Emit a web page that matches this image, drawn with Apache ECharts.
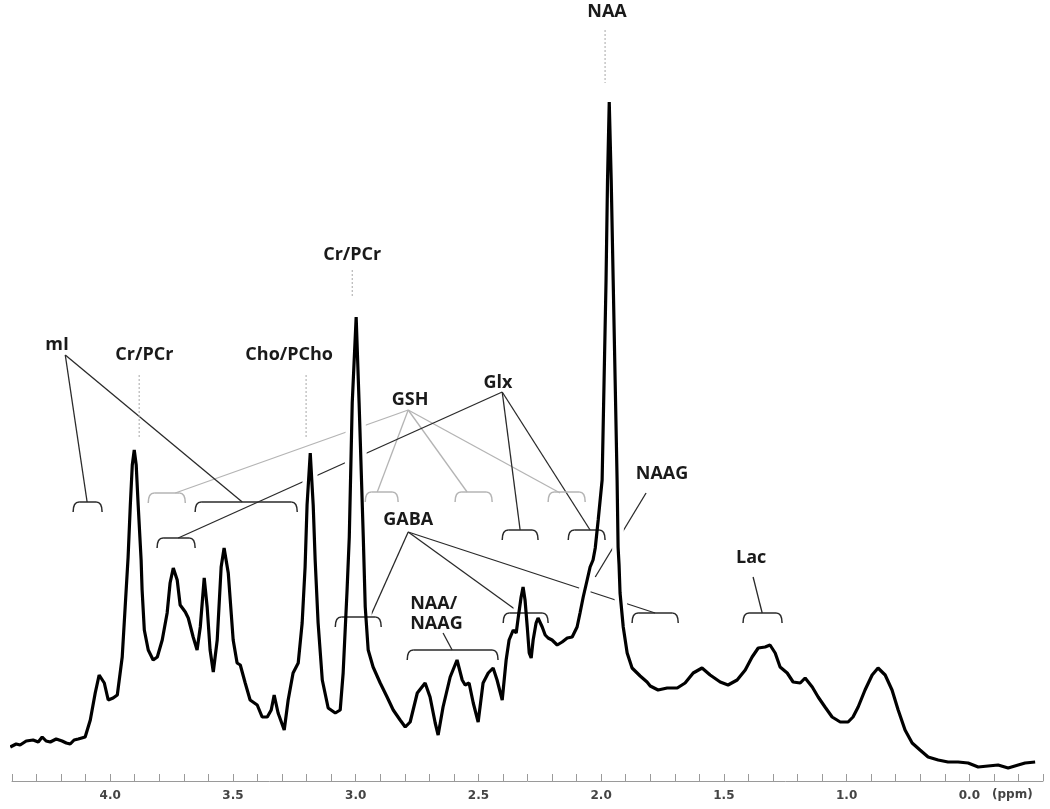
<!DOCTYPE html>
<html>
<head>
<meta charset="utf-8">
<title>MRS spectrum</title>
<script src="https://cdn.jsdelivr.net/npm/echarts@6/dist/echarts.min.js"></script>
<style>
  html, body { margin: 0; padding: 0; background: #fff; }
  #main { width: 1050px; height: 809px; }
</style>
</head>
<body>
<div id="main"></div>
<script>
// spectrum: chemical shift (ppm) and signal (a.u.)
var ppm = [
  4.407, 4.383, 4.367, 4.342, 4.314, 4.293, 4.277, 4.261, 4.244, 4.220,
  4.196, 4.179, 4.163, 4.147, 4.130, 4.102, 4.081, 4.061, 4.045, 4.024,
  4.008, 3.988, 3.971, 3.951, 3.939, 3.927, 3.918, 3.910, 3.902, 3.894,
  3.886, 3.874, 3.870, 3.861, 3.845, 3.825, 3.808, 3.788, 3.768, 3.756,
  3.743, 3.727, 3.715, 3.694, 3.682, 3.662, 3.646, 3.633, 3.617, 3.605,
  3.593, 3.580, 3.564, 3.548, 3.536, 3.519, 3.499, 3.483, 3.470, 3.450,
  3.430, 3.401, 3.381, 3.360, 3.344, 3.332, 3.316, 3.291, 3.275, 3.255,
  3.234, 3.218, 3.206, 3.198, 3.185, 3.173, 3.165, 3.153, 3.136, 3.112,
  3.083, 3.063, 3.051, 3.035, 3.026, 3.014, 2.998, 2.986, 2.969, 2.961,
  2.949, 2.929, 2.900, 2.872, 2.847, 2.819, 2.798, 2.778, 2.749, 2.717,
  2.697, 2.676, 2.664, 2.644, 2.615, 2.587, 2.566, 2.554, 2.538, 2.521,
  2.501, 2.481, 2.460, 2.440, 2.424, 2.403, 2.387, 2.375, 2.358, 2.346,
  2.338, 2.326, 2.318, 2.310, 2.301, 2.293, 2.285, 2.277, 2.265, 2.257,
  2.240, 2.228, 2.216, 2.200, 2.179, 2.159, 2.138, 2.118, 2.098, 2.086,
  2.073, 2.057, 2.045, 2.033, 2.024, 2.012, 1.996, 1.988, 1.980, 1.974,
  1.967, 1.959, 1.951, 1.943, 1.935, 1.931, 1.927, 1.923, 1.910, 1.894,
  1.874, 1.841, 1.813, 1.800, 1.768, 1.731, 1.690, 1.658, 1.625, 1.589,
  1.556, 1.515, 1.483, 1.446, 1.413, 1.385, 1.360, 1.332, 1.312, 1.291,
  1.271, 1.242, 1.218, 1.189, 1.169, 1.140, 1.116, 1.088, 1.059, 1.026,
  0.994, 0.974, 0.953, 0.925, 0.896, 0.872, 0.843, 0.815, 0.790, 0.762,
  0.733, 0.701, 0.668, 0.627, 0.587, 0.546, 0.505, 0.464, 0.424, 0.383,
  0.342, 0.301, 0.273, 0.232
];
var signal = [
  34, 37, 36, 40, 41, 39, 44, 40, 39, 42,
  40, 38, 37, 41, 42, 44, 61, 88, 106, 98,
  81, 83, 86, 124, 174, 224, 276, 316, 331, 316,
  276, 221, 191, 151, 131, 121, 124, 141, 168, 198,
  213, 201, 176, 169, 163, 144, 131, 154, 203, 174,
  131, 109, 141, 214, 233, 208, 141, 118, 116, 98,
  81, 76, 64, 64, 71, 86, 68, 51, 81, 108,
  118, 158, 214, 276, 328, 276, 221, 158, 101, 73,
  68, 71, 108, 191, 244, 378, 464, 378, 244, 174,
  131, 114, 98, 84, 71, 61, 54, 59, 88, 98,
  84, 58, 46, 74, 104, 121, 101, 96, 98, 78,
  59, 98, 108, 113, 101, 81, 121, 141, 151, 148,
  163, 184, 194, 181, 154, 128, 123, 141, 158, 163,
  154, 146, 143, 141, 136, 139, 143, 144, 154, 168,
  184, 201, 214, 221, 233, 261, 301, 401, 501, 601,
  679, 601, 501, 401, 301, 234, 216, 188, 154, 128,
  113, 105, 99, 95, 91, 93, 93, 98, 108, 113,
  106, 99, 96, 101, 111, 124, 133, 134, 136, 128,
  114, 108, 99, 98, 103, 94, 84, 74, 64, 59,
  59, 64, 74, 91, 106, 113, 106, 91, 71, 51,
  38, 31, 24, 21, 19, 19, 18, 14, 15, 16,
  13, 16, 18, 19
];

// axis tick labels (the last one is printed as 0.0 in the source figure)
var tickValues = [4.0, 3.5, 3.0, 2.5, 2.0, 1.5, 1.0, 0.5];
var tickLabels = ['4.0', '3.5', '3.0', '2.5', '2.0', '1.5', '1.0', '0.0'];

// metabolite names and where they sit: [ppm, level]
var labelNames = ['NAA', 'Cr/PCr', 'mI', 'Cr/PCr', 'Cho/PCho', 'GSH', 'Glx', 'GABA', 'NAAG', 'Lac'];
var labelSpots = [
  [1.976, 769], [3.014, 526], [4.216, 436], [3.861, 426], [3.271, 426],
  [2.778, 381], [2.420, 398], [2.786, 261], [1.752, 307], [1.389, 223]
];
var stackedName = 'NAA/\nNAAG';
var stackedSpot = [2.778, 167];

// dotted guides above the singlets: [ppm, from, to]
var guides = [[1.984, 751, 698], [3.014, 511, 483], [3.882, 406, 344], [3.202, 406, 344]];

// leader lines: [ppm1, level1, ppm2, level2]
var blackLeaders = [
  [4.183, 426, 4.094, 279], [4.183, 426, 3.462, 279],
  [2.403, 389, 3.723, 243], [2.403, 389, 2.330, 251], [2.403, 389, 2.045, 251],
  [2.786, 249, 2.941, 164], [2.786, 249, 2.330, 168], [2.786, 249, 1.780, 168],
  [1.817, 288, 2.024, 204], [1.381, 204, 1.344, 168], [2.644, 148, 2.607, 131]
];
var grayLeaders = [
  [2.786, 371, 3.735, 288], [2.786, 371, 2.912, 289],
  [2.786, 371, 2.546, 289], [2.786, 371, 2.167, 288]
];

// brackets over resonance ranges: [ppmFrom, ppmTo, level]
var blackBrackets = [
  [4.151, 4.033, 279], [3.654, 3.238, 279], [3.809, 3.654, 243],
  [2.403, 2.257, 251], [2.134, 1.984, 251],
  [3.083, 2.896, 164], [2.399, 2.216, 168], [1.874, 1.686, 168],
  [1.422, 1.263, 168], [2.790, 2.420, 131]
];
var grayBrackets = [
  [3.845, 3.694, 288], [2.961, 2.827, 289], [2.595, 2.444, 289], [2.216, 2.065, 289]
];

var labelFont = 'bold 18px "Open Sans"';

var spectrum = ppm.map(function (p, i) { return [p, signal[i]]; });

function bracketRenderer(color) {
    return function (params, api) {
        var a = api.coord([api.value(0), api.value(2)]);
        var b = api.coord([api.value(1), api.value(2)]);
        var x1 = Math.min(a[0], b[0]), x2 = Math.max(a[0], b[0]), y = a[1];
        var r = 6, drop = 10;
        var st = { stroke: color, lineWidth: 1.5, fill: 'none' };
        return {
            type: 'group',
            children: [
                { type: 'bezierCurve', shape: { x1: x1, y1: y + drop, x2: x1 + r, y2: y, cpx1: x1, cpy1: y }, style: st },
                { type: 'line', shape: { x1: x1 + r, y1: y, x2: x2 - r, y2: y }, style: st },
                { type: 'bezierCurve', shape: { x1: x2 - r, y1: y, x2: x2, y2: y + drop, cpx1: x2, cpy1: y }, style: st }
            ]
        };
    };
}

function leaderRenderer(color, width) {
    return function (params, api) {
        var a = api.coord([api.value(0), api.value(1)]);
        var b = api.coord([api.value(2), api.value(3)]);
        return {
            type: 'line',
            shape: { x1: a[0], y1: a[1], x2: b[0], y2: b[1] },
            style: { stroke: color, lineWidth: width }
        };
    };
}

var chart = echarts.init(document.getElementById('main'));

var option = {
    animation: false,
    backgroundColor: '#fff',
    grid: { left: 12, right: 7, top: 0, bottom: 28, containLabel: false },
    xAxis: {
        type: 'value',
        inverse: true,
        min: 0.2,
        max: 4.4,
        interval: 0.1,
        splitLine: { show: false },
        axisLine: { lineStyle: { color: '#9a9a9a', width: 1 } },
        axisTick: { inside: true, length: 7, lineStyle: { color: '#9a9a9a' } },
        axisLabel: {
            margin: 9,
            color: '#444',
            fontFamily: 'DejaVu Sans',
            fontSize: 12,
            fontWeight: 'bold',
            formatter: function (v) {
                for (var i = 0; i < tickValues.length; i++) {
                    if (Math.abs(v - tickValues[i]) < 1e-6) return tickLabels[i];
                }
                return '';
            }
        }
    },
    yAxis: { type: 'value', min: 0, max: 781, show: false },
    graphic: [{
        type: 'text', left: 992, top: 789,
        style: { text: '(ppm)', fill: '#444', font: 'bold 12px "DejaVu Sans"' }
    }],
    series: [
        {
            type: 'custom', z: 1, silent: true,
            data: grayLeaders,
            renderItem: leaderRenderer('#b4b4b4', 1.3)
        },
        {
            type: 'custom', z: 1, silent: true,
            data: blackLeaders,
            renderItem: leaderRenderer('#2a2a2a', 1.3)
        },
        {
            type: 'custom', z: 1, silent: true,
            data: guides,
            renderItem: function (params, api) {
                var a = api.coord([api.value(0), api.value(1)]);
                var b = api.coord([api.value(0), api.value(2)]);
                return {
                    type: 'line',
                    shape: { x1: a[0], y1: a[1], x2: b[0], y2: b[1] },
                    style: { stroke: '#a8a8a8', lineWidth: 1, lineDash: [2, 2] }
                };
            }
        },
        {
            // white halo so the leaders break where they pass behind the peaks
            type: 'line', z: 2, silent: true,
            data: spectrum,
            showSymbol: false,
            lineStyle: { color: '#fff', width: 12 }
        },
        {
            type: 'custom', z: 3, silent: true,
            data: grayBrackets,
            renderItem: bracketRenderer('#b4b4b4')
        },
        {
            type: 'custom', z: 3, silent: true,
            data: blackBrackets,
            renderItem: bracketRenderer('#2a2a2a')
        },
        {
            type: 'line', z: 3, silent: true,
            data: spectrum,
            showSymbol: false,
            lineStyle: { color: '#000', width: 3.2 }
        },
        {
            type: 'custom', z: 4, silent: true,
            data: labelSpots,
            renderItem: function (params, api) {
                var p = api.coord([api.value(0), api.value(1)]);
                return {
                    type: 'text', x: p[0], y: p[1],
                    style: {
                        text: labelNames[params.dataIndex], font: labelFont, fill: '#1a1a1a',
                        align: 'center', verticalAlign: 'middle'
                    }
                };
            }
        },
        {
            type: 'custom', z: 4, silent: true,
            data: [stackedSpot],
            renderItem: function (params, api) {
                var p = api.coord([api.value(0), api.value(1)]);
                return {
                    type: 'text', x: p[0], y: p[1],
                    style: {
                        text: stackedName, font: labelFont, fill: '#1a1a1a', lineHeight: 20,
                        align: 'left', verticalAlign: 'middle'
                    }
                };
            }
        }
    ]
};

chart.setOption(option);
</script>
</body>
</html>
